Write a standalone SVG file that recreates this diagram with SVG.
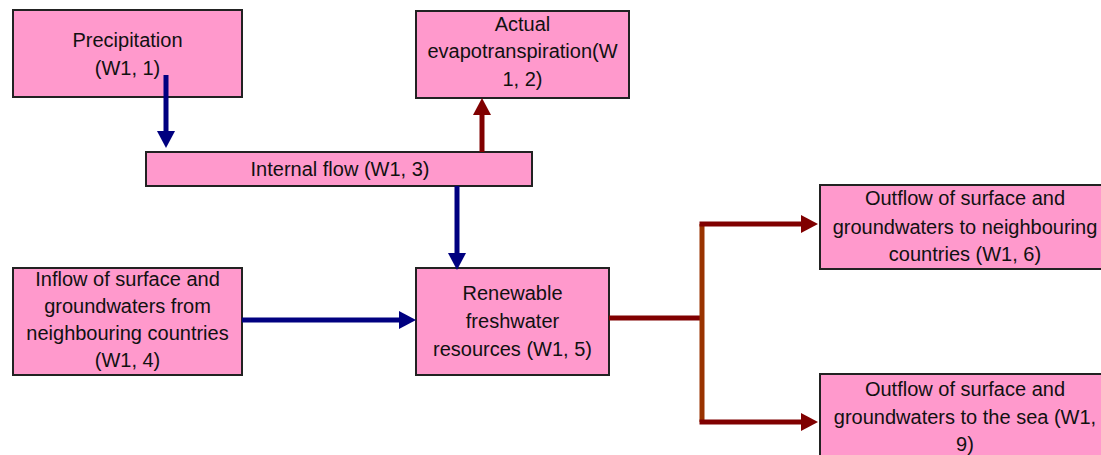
<svg xmlns="http://www.w3.org/2000/svg" width="1101" height="455" viewBox="0 0 1101 455">
  <style>
    .box { fill: #ff99cc; stroke: #222222; stroke-width: 2; }
    .lbl { font-family: "Liberation Sans", Arial, sans-serif; font-size: 20px; fill: #111111; text-anchor: middle; }
    .blue { stroke: #000080; stroke-width: 5; fill: none; }
    .red { stroke: #800000; stroke-width: 5; fill: none; }
    .brown { stroke: #993300; stroke-width: 5; fill: none; }
  </style>
  <defs>
    <marker id="headBlue" markerUnits="userSpaceOnUse" markerWidth="20" markerHeight="20" refX="7" refY="9" orient="auto">
      <path d="M0,0 L17,9 L0,18 Z" fill="#000080"/>
    </marker>
    <marker id="headRed" markerUnits="userSpaceOnUse" markerWidth="20" markerHeight="20" refX="7" refY="9" orient="auto">
      <path d="M0,0 L17,9 L0,18 Z" fill="#800000"/>
    </marker>
  </defs>

  <rect width="1101" height="455" fill="#ffffff"/>

  <g id="precipitation">
    <rect class="box" x="13" y="10" width="229" height="87"/>
    <text class="lbl" x="127.5" y="47">Precipitation</text>
    <text class="lbl" x="127.5" y="75">(W1, 1)</text>
  </g>

  <g id="evapotranspiration">
    <rect class="box" x="416" y="11" width="213" height="87"/>
    <text class="lbl" x="522.5" y="31">Actual</text>
    <text class="lbl" x="522.5" y="58">evapotranspiration(W</text>
    <text class="lbl" x="522.5" y="86">1, 2)</text>
  </g>

  <g id="internal-flow">
    <rect class="box" x="146" y="152" width="386" height="34"/>
    <text class="lbl" x="340" y="176">Internal flow (W1, 3)</text>
  </g>

  <g id="inflow">
    <rect class="box" x="13" y="268" width="229" height="107"/>
    <text class="lbl" x="127.5" y="286">Inflow of surface and</text>
    <text class="lbl" x="127.5" y="313">groundwaters from</text>
    <text class="lbl" x="127.5" y="340">neighbouring countries</text>
    <text class="lbl" x="127.5" y="367">(W1, 4)</text>
  </g>

  <g id="renewable">
    <rect class="box" x="416" y="268" width="193" height="107"/>
    <text class="lbl" x="512.5" y="300">Renewable</text>
    <text class="lbl" x="512.5" y="328">freshwater</text>
    <text class="lbl" x="512.5" y="356">resources (W1, 5)</text>
  </g>

  <g id="outflow-neighbours">
    <rect class="box" x="820" y="185" width="300" height="84"/>
    <text class="lbl" x="965" y="205">Outflow of surface and</text>
    <text class="lbl" x="965" y="234">groundwaters to neighbouring</text>
    <text class="lbl" x="965" y="261">countries (W1, 6)</text>
  </g>

  <g id="outflow-sea">
    <rect class="box" x="820" y="374" width="300" height="100"/>
    <text class="lbl" x="965" y="396">Outflow of surface and</text>
    <text class="lbl" x="965" y="424">groundwaters to the sea (W1,</text>
    <text class="lbl" x="965" y="451">9)</text>
  </g>

  <g id="connectors">
    <line class="blue" x1="166" y1="75" x2="166" y2="138" marker-end="url(#headBlue)"/>
    <line class="blue" x1="457" y1="186" x2="457" y2="260" marker-end="url(#headBlue)"/>
    <line class="blue" x1="242" y1="320" x2="406" y2="320" marker-end="url(#headBlue)"/>
    <line class="red" x1="482" y1="152" x2="482" y2="108" marker-end="url(#headRed)"/>
    <line class="red" x1="609" y1="318" x2="703" y2="318"/>
    <line class="brown" x1="702" y1="224" x2="702" y2="422"/>
    <line class="red" x1="699.5" y1="224" x2="808" y2="224" marker-end="url(#headRed)"/>
    <line class="red" x1="699.5" y1="422" x2="808" y2="422" marker-end="url(#headRed)"/>
  </g>
</svg>
